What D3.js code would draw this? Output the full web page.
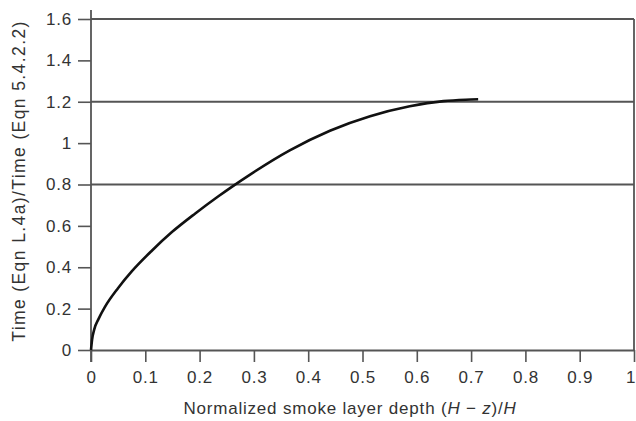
<!DOCTYPE html>
<html><head><meta charset="utf-8">
<script src="https://cdn.jsdelivr.net/npm/d3@7"></script>
<style>
html,body{margin:0;padding:0;background:#fff;}
svg{display:block;font-family:"Liberation Sans",Arial,Helvetica,sans-serif;}
</style></head>
<body><svg id="c" width="636" height="421"></svg>
<script>
const xTicks = [0,0.1,0.2,0.3,0.4,0.5,0.6,0.7,0.8,0.9,1];
const xTickLabels = ["0","0.1","0.2","0.3","0.4","0.5","0.6","0.7","0.8","0.9","1"];
const yTicks = [0,0.2,0.4,0.6,0.8,1,1.2,1.4,1.6];
const yTickLabels = ["0","0.2","0.4","0.6","0.8","1","1.2","1.4","1.6"];
const refLines = [0.8,1.2,1.6];
const curveX = [0,0.002,0.006,0.0135,0.026,0.05,0.075,0.112,0.149,0.192,0.234,0.26,0.293,0.366,0.44,0.514,0.587,0.649,0.69,0.713];
const curveY = [0,0.05,0.1,0.148,0.21,0.3,0.38,0.48,0.57,0.66,0.742,0.79,0.848,0.965,1.06,1.13,1.178,1.203,1.21,1.212];

const svg = d3.select("#c");
const L=91, R=634, T=19, B=350;
const x = d3.scaleLinear().domain([0,1]).range([L,R]);
const y = d3.scaleLinear().domain([0,1.6]).range([B,T]);
const axisColor="#555";
const textColor="#333";

// horizontal reference lines
svg.append("g").selectAll("line").data(refLines).join("line")
  .attr("x1",L).attr("x2",R).attr("y1",d=>y(d)).attr("y2",d=>y(d))
  .attr("stroke",axisColor).attr("stroke-width",1.8);
// right border
svg.append("line").attr("x1",R).attr("x2",R).attr("y1",y(1.6)).attr("y2",y(0))
  .attr("stroke",axisColor).attr("stroke-width",1.8);

// x axis
const xAxis = d3.axisBottom(x).tickValues(xTicks).tickFormat((d,i)=>xTickLabels[i]).tickSize(12).tickPadding(9).tickSizeOuter(0);
const gx = svg.append("g").attr("transform",`translate(0,${B})`).call(xAxis);
gx.select(".domain").attr("stroke",axisColor).attr("stroke-width",1.8);
gx.selectAll(".tick line").attr("stroke",axisColor).attr("stroke-width",1.6);
gx.selectAll(".tick text").attr("fill",textColor).attr("font-size",17)
  .attr("letter-spacing","0.8px")
  .attr("font-family","Liberation Sans,Arial,sans-serif");
gx.selectAll(".tick").filter(d=>d===1).select("text").attr("text-anchor","end").attr("letter-spacing","0px").attr("dx","1");

// y axis
const yAxis = d3.axisLeft(y).tickValues(yTicks).tickFormat((d,i)=>yTickLabels[i]).tickSize(13).tickPadding(6).tickSizeOuter(0);
const gy = svg.append("g").attr("transform",`translate(${L},0)`).call(yAxis);
gy.select(".domain").attr("stroke",axisColor).attr("stroke-width",1.8)
  .attr("d",`M0,${10}V${B+12}`);
gy.selectAll(".tick line").attr("stroke",axisColor).attr("stroke-width",1.6);
gy.selectAll(".tick text").attr("fill",textColor).attr("font-size",17)
  .attr("letter-spacing","0.8px")
  .attr("font-family","Liberation Sans,Arial,sans-serif");

// curve
const pts = curveX.map((v,i)=>[v,curveY[i]]);
svg.append("path").datum(pts)
  .attr("d",d3.line().x(d=>x(d[0])).y(d=>y(d[1])).curve(d3.curveMonotoneX))
  .attr("fill","none").attr("stroke","#111").attr("stroke-width",2.6);

// x label
const xl = svg.append("text").attr("x",350).attr("y",414).attr("text-anchor","middle")
  .attr("font-size",17).attr("letter-spacing","0.8px").attr("fill",textColor);
xl.append("tspan").text("Normalized smoke layer depth (");
xl.append("tspan").attr("font-style","italic").text("H");
xl.append("tspan").text(" \u2212 ");
xl.append("tspan").attr("font-style","italic").text("z");
xl.append("tspan").text(")/");
xl.append("tspan").attr("font-style","italic").text("H");

// y label
svg.append("text").attr("transform","translate(25,181) rotate(-90)")
  .attr("text-anchor","middle").attr("font-size",17.5).attr("letter-spacing","1.4px").attr("fill",textColor)
  .text("Time (Eqn L.4a)/Time (Eqn 5.4.2.2)");
</script></body></html>
